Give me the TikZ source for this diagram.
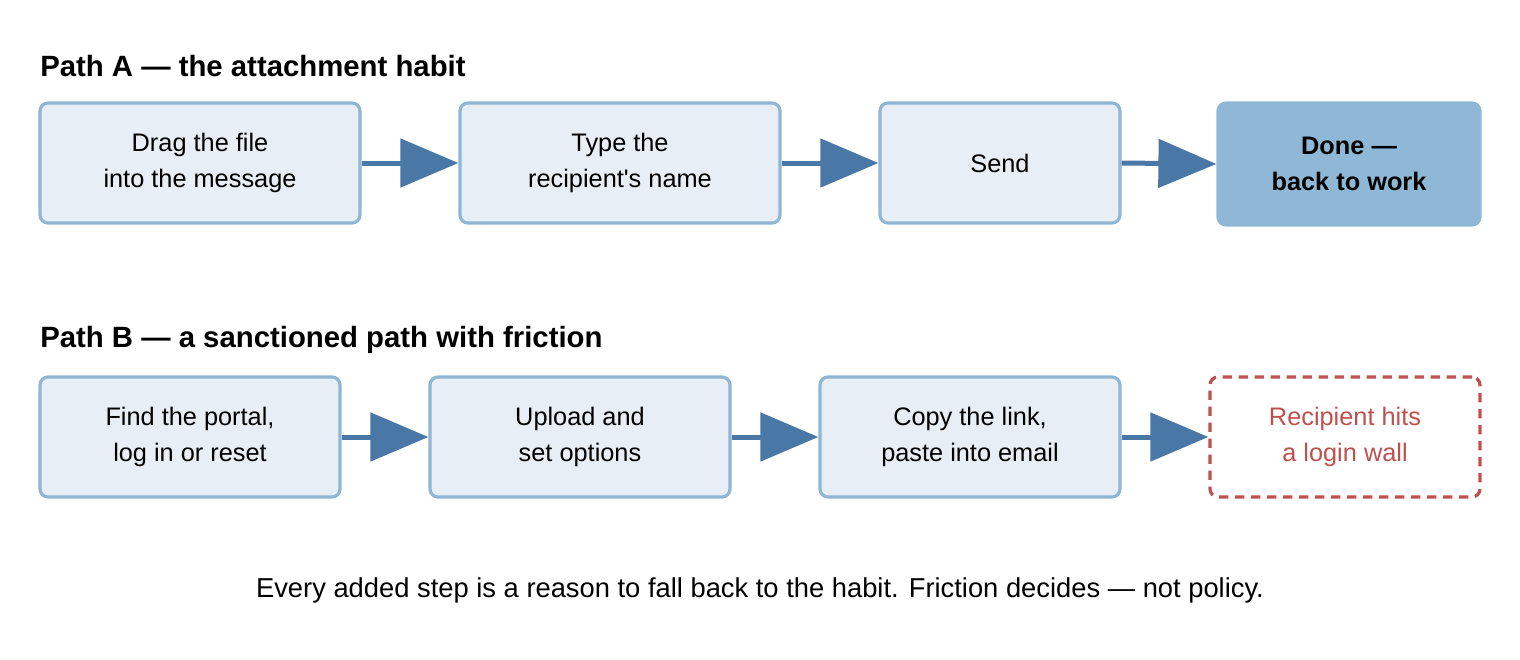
\documentclass[tikz,border=0pt]{standalone}
\usepackage{fontspec}
\setmainfont{Liberation Sans}
\usetikzlibrary{arrows.meta}
\definecolor{boxfill}{HTML}{E8EEF5}
\definecolor{boxline}{HTML}{8FB6D4}
\definecolor{arr}{HTML}{4A78A6}
\definecolor{donefill}{HTML}{8FB8D6}
\definecolor{warn}{HTML}{C0504D}
\begin{document}
\begin{tikzpicture}[x=0.75pt,y=-0.75pt,
 box/.style={draw=boxline,fill=boxfill,line width=2.4pt,rounded corners=6pt,align=center,font=\fontsize{19}{27}\selectfont,inner sep=0pt},
 done/.style={box,draw=donefill,fill=donefill,font=\fontsize{19}{27}\selectfont\bfseries},
 wall/.style={box,draw=warn,fill=white,dash pattern=on 7pt off 5pt,text=warn},
 flowarrow/.style={draw=arr,line width=3.75pt,-{Triangle[length=43.5pt,width=36pt]}},
 title/.style={anchor=west,inner sep=0pt,font=\fontsize{22}{26}\selectfont\bfseries}]
\useasboundingbox (0,0) rectangle (1520,660);
\node[title] (ta) at (40,66) {Path A — the attachment habit};
\node[box,minimum width=240pt,minimum height=90pt] (a1) at (200,163) {Drag the file\\into the message};
\node[box,minimum width=240pt,minimum height=90pt] (a2) at (620,163) {Type the\\recipient\textquotesingle s name};
\node[box,minimum width=180pt,minimum height=90pt] (a3) at (1000,163) {Send};
\node[done,minimum width=196.5pt,minimum height=91.5pt] (a4) at (1349,164) {Done —\\back to work};
\draw[flowarrow] (a1.east) -- (a2.west);
\draw[flowarrow] (a2.east) -- (a3.west);
\draw[flowarrow] (a3.east) -- (a4.west);
\node[title] (tb) at (40,340) {Path B — a sanctioned path with friction};
\node[box,minimum width=225pt,minimum height=90pt] (b1) at (190,437) {Find the portal,\\log in or reset};
\node[box,minimum width=225pt,minimum height=90pt] (b2) at (580,437) {Upload and\\set options};
\node[box,minimum width=225pt,minimum height=90pt] (b3) at (970,437) {Copy the link,\\paste into email};
\node[wall,minimum width=202.5pt,minimum height=90pt] (b4) at (1345,437) {Recipient hits\\a login wall};
\draw[flowarrow] (b1.east) -- (b2.west);
\draw[flowarrow] (b2.east) -- (b3.west);
\draw[flowarrow] (b3.east) -- (b4.west);
\node[font=\fontsize{20.5}{24}\selectfont] (foot) at (760,590) {Every added step is a reason to fall back to the habit. Friction decides — not policy.};
\end{tikzpicture}
\end{document}
